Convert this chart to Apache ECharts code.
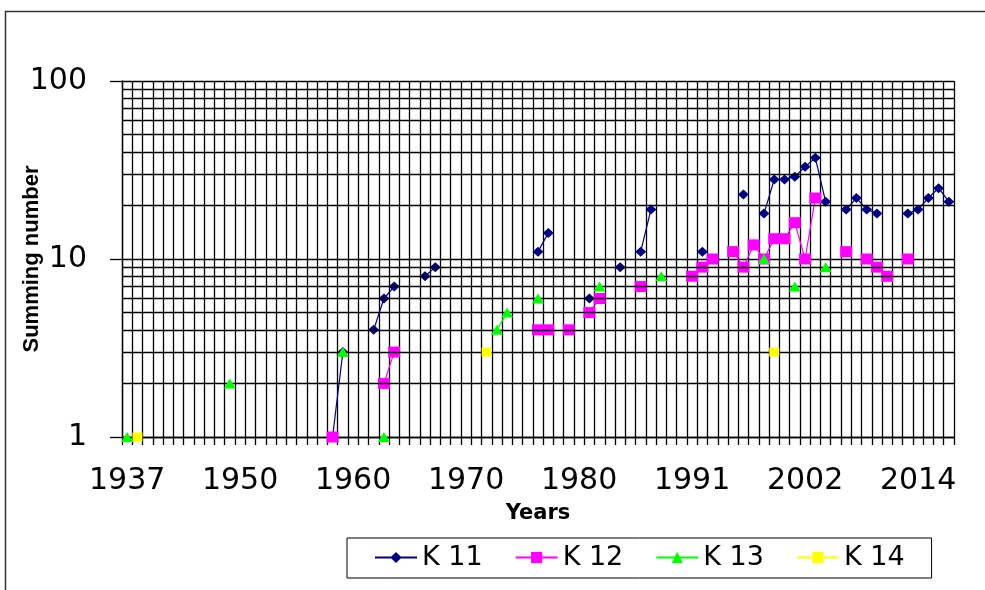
<!DOCTYPE html>
<html>
<head>
<meta charset="utf-8">
<title>Summing number by year</title>
<script src="https://cdn.jsdelivr.net/npm/echarts@6/dist/echarts.min.js"></script>
<style>
  html, body { margin: 0; padding: 0; background: #fff; }
  #chart { width: 985px; height: 590px; }
</style>
</head>
<body>
<div id="chart"></div>
<script>
const _ = null;

// Year categories along the horizontal axis (one per column of the table)
const years = [
  '1937','1938','1939','1940','1941','1942','1943','1945','1946','1947',
  '1948','1950','1951','1952','1953','1954','1955','1956','1957','1957',
  '1958','1959','1960','1961','1962','1963','1964','1965','1966','1967',
  '1968','1968','1969','1970','1971','1972','1973','1974','1975','1975',
  '1976','1977','1978','1979','1980','1981','1982','1983','1984','1985',
  '1986','1987','1988','1989','1990','1991','1992','1993','1994','1995',
  '1996','1997','1998','1999','2000','2001','2002','2003','2004','2005',
  '2006','2007','2008','2009','2010','2012','2013','2014','2015','2016',
  '2017'
];

// Summing number per category; gaps are null
const k11 = [
  _,_,_,_,_,_,_,_,_,_,
  _,_,_,_,_,_,_,_,_,_,
  1,3,_,_,4,6,7,_,_,8,
  9,_,_,_,_,_,_,_,_,_,
  11,14,_,_,_,6,_,_,9,_,
  11,19,_,_,_,_,11,_,_,_,
  23,_,18,28,28,29,33,37,21,_,
  19,22,19,18,_,_,18,19,22,25,
  21
];
const k12 = [
  _,_,_,_,_,_,_,_,_,_,
  _,_,_,_,_,_,_,_,_,_,
  1,_,_,_,_,2,3,_,_,_,
  _,_,_,_,_,_,_,_,_,_,
  4,4,_,4,_,5,6,_,_,_,
  7,_,_,_,_,8,9,10,_,11,
  9,12,10,13,13,16,10,22,_,_,
  11,_,10,9,8,_,10,_,_,_,
  _
];
const k13 = [
  1,_,_,_,_,_,_,_,_,_,
  2,_,_,_,_,_,_,_,_,_,
  _,3,_,_,_,1,_,_,_,_,
  _,_,_,_,_,_,4,5,_,_,
  6,_,_,_,_,_,7,_,_,_,
  _,_,8,_,_,_,_,_,_,_,
  _,_,10,_,_,7,_,_,9,_,
  _,_,_,_,_,_,_,_,_,_,
  _
];
const k14 = [
  _,1,_,_,_,_,_,_,_,_,
  _,_,_,_,_,_,_,_,_,_,
  _,_,_,_,_,_,_,_,_,_,
  _,_,_,_,_,3,_,_,_,_,
  _,_,_,_,_,_,_,_,_,_,
  _,_,_,_,_,_,_,_,_,_,
  _,_,_,3,_,_,_,_,_,_,
  _,_,_,_,_,_,_,_,_,_,
  _
];

// Intermediate log-grid values between the decades
const minorGrid = [2,3,4,5,6,7,8,9,20,30,40,50,60,70,80,90];

const seriesNames = ['K 11', 'K 12', 'K 13', 'K 14'];

const chart = echarts.init(document.getElementById('chart'), null, { renderer: 'canvas' });

const gridLine = { color: '#000', width: 1.3 };

function lineSeries(name, data, color, symbol, size, z) {
  return {
    name, type: 'line', data, z,
    connectNulls: false,
    showAllSymbol: true,
    symbol, symbolSize: size,
    itemStyle: { color },
    lineStyle: { color, width: 1.2 }
  };
}

chart.setOption({
  animation: false,
  backgroundColor: '#fff',
  grid: {
    left: 122, right: 31, top: 81, bottom: 153,
    containLabel: false,
    outerBoundsMode: 'none'
  },
  xAxis: {
    type: 'category',
    data: years,
    boundaryGap: true,
    name: 'Years',
    nameLocation: 'middle',
    nameGap: 66,
    nameMoveOverlap: false,
    nameTextStyle: { fontFamily: 'DejaVu Sans', fontWeight: 'bold', fontSize: 21, color: '#000' },
    axisLine: { show: true, lineStyle: gridLine },
    axisTick: { show: true, interval: 0, length: 8, lineStyle: gridLine },
    axisLabel: {
      interval: 10, margin: 29,
      fontFamily: 'DejaVu Sans', fontSize: 30, color: '#000'
    },
    splitLine: { show: true, interval: 0, lineStyle: gridLine }
  },
  yAxis: {
    type: 'log',
    logBase: 10,
    min: 1,
    max: 100,
    name: 'Summing number',
    nameLocation: 'middle',
    nameGap: 79,
    nameRotate: 90,
    nameMoveOverlap: false,
    nameTextStyle: { fontFamily: 'Liberation Sans', fontWeight: 'bold', fontSize: 22, color: '#000' },
    axisLine: { show: true, lineStyle: gridLine },
    axisTick: { show: true, length: 12, lineStyle: gridLine },
    axisLabel: { margin: 35, fontFamily: 'DejaVu Sans', fontSize: 30, color: '#000' },
    splitLine: { show: true, lineStyle: gridLine }
  },
  legend: {
    data: seriesNames,
    orient: 'horizontal',
    left: 347,
    top: 538,
    itemWidth: 42,
    itemHeight: 14,
    itemGap: 32,
    padding: [6, 27, 7, 27],
    borderColor: '#000',
    borderWidth: 1,
    backgroundColor: '#fff',
    textStyle: { fontFamily: 'DejaVu Sans', fontSize: 27, color: '#000' }
  },
  graphic: [{
    type: 'rect',
    left: 3, top: 9,
    shape: { width: 1000, height: 600 },
    style: { fill: 'none', stroke: '#333', lineWidth: 1.5 },
    silent: true, z: -10
  }],
  series: [
    {
      name: 'grid',
      type: 'line',
      data: [],
      z: 1,
      silent: true,
      markLine: {
        silent: true,
        symbol: 'none',
        label: { show: false },
        lineStyle: { color: '#000', width: 1.3, type: 'solid' },
        emphasis: { disabled: true },
        data: minorGrid.map(v => ({ yAxis: v }))
      }
    },
    lineSeries('K 11', k11, '#000080', 'diamond', [11, 10], 3),
    lineSeries('K 12', k12, '#ff00ff', 'rect', [12, 11], 4),
    lineSeries('K 13', k13, '#00ff00', 'triangle', [12, 10], 5),
    lineSeries('K 14', k14, '#ffff00', 'rect', [10, 9], 6)
  ]
});
</script>
</body>
</html>
